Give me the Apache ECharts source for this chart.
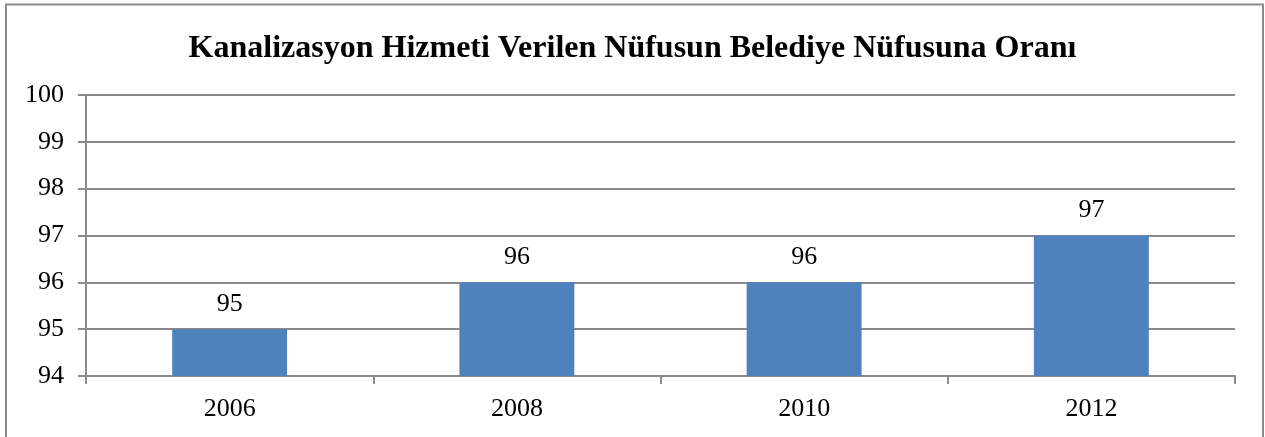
<!DOCTYPE html>
<html><head><meta charset="utf-8">
<script src="https://cdn.jsdelivr.net/npm/echarts@6/dist/echarts.min.js"></script>
<style>html,body{margin:0;padding:0;background:#fff}#c{width:1265px;height:437px}</style>
</head><body><div id="c"></div>
<script>
const categories = ['2006', '2008', '2010', '2012'];
const values = [95, 96, 96, 97];
const titleText = 'Kanalizasyon Hizmeti Verilen Nüfusun Belediye Nüfusuna Oranı';
const font = '"Liberation Serif", "Times New Roman", serif';
const lineColor = '#8a8a8a';
const chart = echarts.init(document.getElementById('c'));
chart.setOption({
  animation: false,
  title: { text: titleText, left: 'center', top: 28, textStyle: { fontFamily: font, fontSize: 32, fontWeight: 'bold', color: '#000' } },
  graphic: [{ type: 'rect', shape: { x: 6, y: 4.5, width: 1257, height: 440 }, style: { fill: 'none', stroke: lineColor, lineWidth: 2 }, silent: true }],
  grid: { left: 86, right: 30, top: 95, bottom: 61 },
  xAxis: {
    type: 'category', data: categories, boundaryGap: true,
    axisLine: { lineStyle: { color: lineColor, width: 2 } },
    axisTick: { show: true, alignWithLabel: false, length: 8, lineStyle: { color: lineColor, width: 2 } },
    axisLabel: { fontFamily: font, fontSize: 26, color: '#000', margin: 20 }
  },
  yAxis: {
    type: 'value', min: 94, max: 100, interval: 1,
    axisLine: { show: true, lineStyle: { color: lineColor, width: 2 } },
    axisTick: { show: true, length: 8, lineStyle: { color: lineColor, width: 2 } },
    splitLine: { lineStyle: { color: lineColor, width: 2 } },
    axisLabel: { fontFamily: font, fontSize: 26, color: '#000', margin: 22 }
  },
  series: [{
    type: 'bar', data: values, barWidth: '40%',
    itemStyle: { color: '#4F81BD' },
    label: { show: true, position: 'top', distance: 12, fontFamily: font, fontSize: 26, color: '#000' }
  }]
});
</script></body></html>
